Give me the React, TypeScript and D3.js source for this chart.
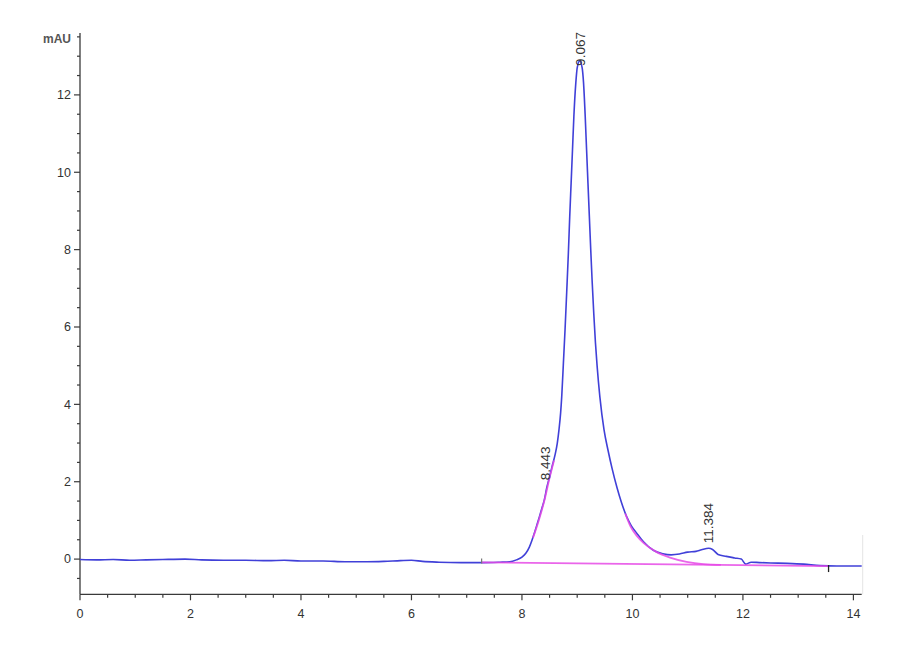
import React, { useEffect, useRef } from 'react';
import * as d3 from 'd3';

// chromatogram trace: retention time (min) and signal (mAU)
const traceTime = [
  0.0, 0.3, 0.6, 0.9, 1.2, 1.5, 1.9, 2.2, 2.6, 3.0, 3.4, 3.7, 4.0, 4.4, 4.8,
  5.2, 5.5, 5.8, 6.0, 6.2, 6.5, 6.9, 7.3, 7.6, 7.78, 7.9, 8.0, 8.07, 8.134,
  8.18, 8.224, 8.27, 8.315, 8.36, 8.405, 8.45, 8.5, 8.55, 8.6, 8.64, 8.67, 8.7,
  8.72, 8.75, 8.78, 8.81, 8.84, 8.865, 8.89, 8.915, 8.94, 8.975, 9.0, 9.045,
  9.09, 9.115, 9.145, 9.17, 9.195, 9.22, 9.245, 9.27, 9.3, 9.33, 9.36, 9.41,
  9.486, 9.56, 9.63, 9.72, 9.8, 9.897, 9.98, 10.078, 10.2, 10.378, 10.55, 10.7,
  10.85, 11.0, 11.15, 11.25, 11.38, 11.45, 11.55, 11.7, 11.85, 11.97, 12.05,
  12.15, 12.3, 12.5, 12.8, 13.1, 13.4, 13.7, 14.15,
];
const traceSignal = [
  -0.01, -0.02, -0.01, -0.03, -0.02, -0.01, 0.0, -0.02, -0.03, -0.03, -0.04,
  -0.03, -0.05, -0.05, -0.07, -0.07, -0.06, -0.04, -0.03, -0.06, -0.08, -0.09,
  -0.09, -0.08, -0.07, -0.02, 0.05, 0.15, 0.31, 0.48, 0.67, 0.88, 1.09, 1.31,
  1.53, 1.85, 2.13, 2.42, 2.7, 3.0, 3.34, 3.78, 4.2, 5.06, 5.93, 6.9, 7.9,
  8.86, 9.72, 10.58, 11.45, 12.31, 12.7, 12.88, 12.7, 12.31, 11.45, 10.58, 9.72,
  8.86, 8.0, 7.2, 6.35, 5.6, 5.0, 4.2, 3.34, 2.8, 2.35, 1.85, 1.47, 1.09, 0.86,
  0.67, 0.45, 0.23, 0.14, 0.11, 0.13, 0.18, 0.2, 0.24, 0.28, 0.25, 0.12, 0.07,
  0.03, 0.0, -0.13, -0.08, -0.09, -0.1, -0.11, -0.13, -0.17, -0.18, -0.18,
];

// integration baseline and fitted peak edges
const baselineTime = [7.27, 13.55];
const baselineSignal = [-0.086, -0.18];
const leftFitTime = [8.2, 8.3, 8.4, 8.5, 8.58];
const leftFitSignal = [0.55, 0.98, 1.48, 2.1, 2.55];
const rightFitTime = [9.87, 9.96, 10.08, 10.2, 10.44, 10.68, 10.98, 11.28, 11.6];
const rightFitSignal = [1.18, 0.86, 0.6, 0.42, 0.18, 0.04, -0.07, -0.13, -0.15];

// peak retention time labels and the height their text starts at
const peakNames = ['8.443', '9.067', '11.384'];
const peakTimes = [8.443, 9.067, 11.384];
const peakLabelAt = [2.04, 12.75, 0.41];

const xTicks = [0, 2, 4, 6, 8, 10, 12, 14];
const yTicks = [0, 2, 4, 6, 8, 10, 12];

export default function App() {
  const ref = useRef<SVGSVGElement>(null);

  useEffect(() => {
    const width = 900;
    const height = 660;
    const svg = d3.select(ref.current);
    svg.selectAll('*').remove();

    const x = d3.scaleLinear().domain([0, 14.15]).range([80, 861.7]);
    const y = d3.scaleLinear().domain([-0.91, 13.6]).range([594.3, 33]);

    const font = '"Liberation Sans", Arial, sans-serif';
    const axisColor = '#3a3a3a';

    // faint plot frame at the right
    svg
      .append('line')
      .attr('x1', x(14.15) + 1)
      .attr('x2', x(14.15) + 1)
      .attr('y1', 535)
      .attr('y2', y(-0.91))
      .attr('stroke', '#e4e4e4')
      .attr('stroke-width', 1);

    // y axis
    const yAxis = svg.append('g').attr('transform', `translate(${x(0)},0)`);
    yAxis
      .append('line')
      .attr('y1', y(-0.91))
      .attr('y2', y(13.6))
      .attr('stroke', axisColor)
      .attr('stroke-width', 1.3);
    yAxis
      .selectAll('line.minor')
      .data(d3.range(-0.5, 13.6, 0.5))
      .enter()
      .append('line')
      .attr('class', 'minor')
      .attr('x1', (d) => (yTicks.includes(d) ? -6 : -3))
      .attr('x2', 0)
      .attr('y1', (d) => y(d))
      .attr('y2', (d) => y(d))
      .attr('stroke', axisColor)
      .attr('stroke-width', 1.2);
    yAxis
      .selectAll('text.tick')
      .data(yTicks)
      .enter()
      .append('text')
      .attr('class', 'tick')
      .attr('x', -9)
      .attr('y', (d) => y(d))
      .attr('dy', '0.35em')
      .attr('text-anchor', 'end')
      .attr('font-family', font)
      .attr('font-size', 12.5)
      .attr('fill', '#333')
      .text((d) => d);
    yAxis
      .append('text')
      .attr('x', -9)
      .attr('y', 43)
      .attr('text-anchor', 'end')
      .attr('font-family', font)
      .attr('font-size', 12)
      .attr('font-weight', 'bold')
      .attr('fill', '#555')
      .text('mAU');

    // x axis
    const xAxis = svg.append('g').attr('transform', `translate(0,${y(-0.91)})`);
    xAxis
      .append('line')
      .attr('x1', x(0))
      .attr('x2', x(14.15))
      .attr('stroke', axisColor)
      .attr('stroke-width', 1.3);
    xAxis
      .selectAll('line.minor')
      .data(d3.range(0, 14.1, 0.5))
      .enter()
      .append('line')
      .attr('class', 'minor')
      .attr('x1', (d) => x(d))
      .attr('x2', (d) => x(d))
      .attr('y1', 0)
      .attr('y2', (d) => (xTicks.includes(d) ? 6 : 3.5))
      .attr('stroke', axisColor)
      .attr('stroke-width', 1.2);
    xAxis
      .selectAll('text.tick')
      .data(xTicks)
      .enter()
      .append('text')
      .attr('class', 'tick')
      .attr('x', (d) => x(d))
      .attr('y', 24)
      .attr('text-anchor', 'middle')
      .attr('font-family', font)
      .attr('font-size', 12.5)
      .attr('fill', '#333')
      .text((d) => d);

    const line = d3
      .line<[number, number]>()
      .x((d) => x(d[0]))
      .y((d) => y(d[1]))
      .curve(d3.curveMonotoneX);

    const zip = (t: number[], s: number[]) =>
      t.map((v, i) => [v, s[i]] as [number, number]);

    // trace
    svg
      .append('path')
      .attr('d', line(zip(traceTime, traceSignal)))
      .attr('fill', 'none')
      .attr('stroke', '#4040d8')
      .attr('stroke-width', 1.6);

    // fits and baseline
    const magenta = '#e64ae6';
    [
      zip(baselineTime, baselineSignal),
      zip(leftFitTime, leftFitSignal),
      zip(rightFitTime, rightFitSignal),
    ].forEach((pts) => {
      svg
        .append('path')
        .attr('d', line(pts))
        .attr('fill', 'none')
        .attr('stroke', magenta)
        .attr('stroke-opacity', 0.85)
        .attr('stroke-width', 1.8);
    });

    // baseline start / end markers
    svg
      .append('line')
      .attr('x1', x(baselineTime[0]))
      .attr('x2', x(baselineTime[0]))
      .attr('y1', y(baselineSignal[0]) - 4)
      .attr('y2', y(baselineSignal[0]) + 1)
      .attr('stroke', '#777')
      .attr('stroke-width', 1.2);
    svg
      .append('line')
      .attr('x1', x(baselineTime[1]))
      .attr('x2', x(baselineTime[1]))
      .attr('y1', y(baselineSignal[1]) - 1)
      .attr('y2', y(baselineSignal[1]) + 6)
      .attr('stroke', '#222')
      .attr('stroke-width', 1.3);

    // peak labels
    svg
      .selectAll('text.peak')
      .data(peakNames)
      .enter()
      .append('text')
      .attr('class', 'peak')
      .attr(
        'transform',
        (d, i) => `translate(${x(peakTimes[i]) + 4},${y(peakLabelAt[i])}) rotate(-90)`
      )
      .attr('font-family', font)
      .attr('font-size', 13.5)
      .attr('fill', '#333')
      .text((d) => d);

    svg.attr('width', width).attr('height', height);
  }, []);

  return (
    <svg
      ref={ref}
      style={{ position: 'absolute', left: 0, top: 0, background: '#fff' }}
    />
  );
}
